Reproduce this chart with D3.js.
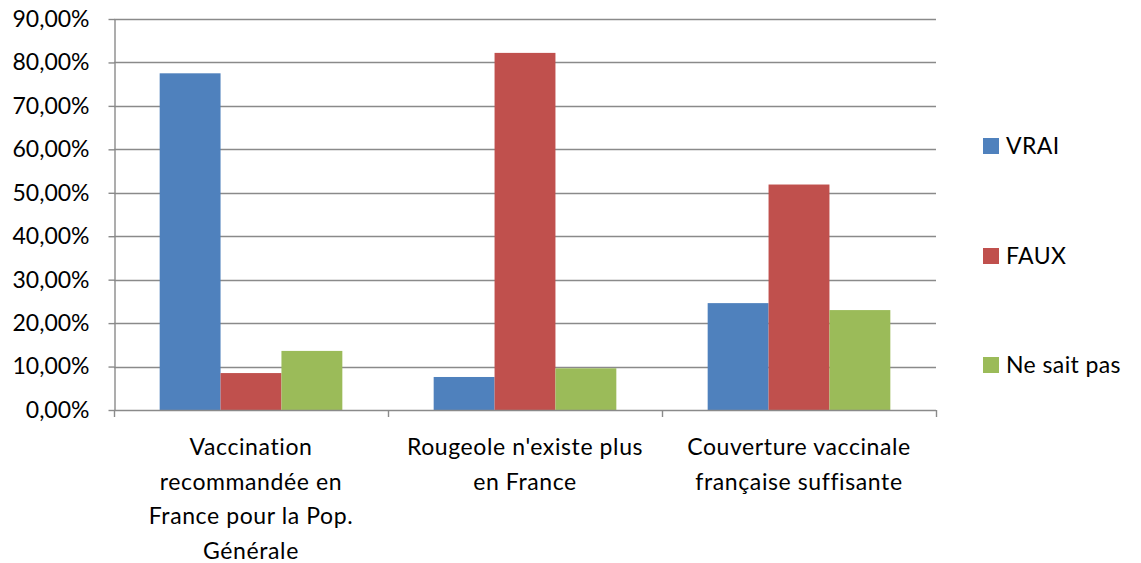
<!DOCTYPE html>
<html>
<head>
<meta charset="utf-8">
<script src="https://cdn.jsdelivr.net/npm/d3@7"></script>
<style>
  body { margin: 0; background: #fff; }
  svg text { font-family: Lato, "Open Sans", sans-serif; fill: #000; }
</style>
</head>
<body>
<div id="chart"></div>
<script>
// data
let categories = [
  ["Vaccination", "recommandée en", "France pour la Pop.", "Générale"],
  ["Rougeole n'existe plus", "en France"],
  ["Couverture vaccinale", "française suffisante"]
];
let seriesNames = ["VRAI", "FAUX", "Ne sait pas"];
let vrai = [77.5, 7.6, 24.6];
let faux = [8.5, 82.2, 51.9];
let neSaitPas = [13.6, 9.6, 23.0];
let yTicks = [0, 10, 20, 30, 40, 50, 60, 70, 80, 90];

let width = 1141, height = 563;
let margin = { top: 19, bottom: 153, left: 114, right: 205 };
let colors = ["#4F81BD", "#C0504D", "#9BBB59"];
let series = [vrai, faux, neSaitPas];

let svg = d3.select("#chart").append("svg")
  .attr("width", width)
  .attr("height", height);

let catIdx = categories.map((d, i) => i);

let x0 = d3.scaleBand()
  .domain(catIdx)
  .range([margin.left, width - margin.right])
  .paddingInner(0)
  .paddingOuter(0);

// excel gap width 150% -> bars take 3/(3+1.5) of the band
let x1 = d3.scaleBand()
  .domain(d3.range(series.length))
  .range([0, x0.bandwidth()])
  .paddingInner(0)
  .paddingOuter(0.75);

let y = d3.scaleLinear()
  .domain([0, 90])
  .range([height - margin.bottom, margin.top]);

let fmt = v => d3.format(".2f")(v).replace(".", ",") + "%";

// gridlines
svg.append("g")
  .selectAll("line")
  .data(yTicks.slice(1))
  .join("line")
  .attr("x1", margin.left)
  .attr("x2", width - margin.right)
  .attr("y1", d => Math.round(y(d)) + 0.5)
  .attr("y2", d => Math.round(y(d)) + 0.5)
  .attr("stroke", "#8a8a8a")
  .attr("stroke-width", 1.4);

// bars
let rows = [];
series.forEach((s, si) => s.forEach((v, ci) => rows.push({ si: si, ci: ci, v: v })));

svg.append("g")
  .selectAll("rect")
  .data(rows)
  .join("rect")
  .attr("x", d => x0(d.ci) + x1(d.si))
  .attr("width", x1.bandwidth())
  .attr("y", d => y(d.v))
  .attr("height", d => y(0) - y(d.v))
  .attr("fill", d => colors[d.si]);

// y axis
let yAxis = d3.axisLeft(y)
  .tickValues(yTicks)
  .tickFormat(fmt)
  .tickSize(6)
  .tickSizeOuter(0);

let gy = svg.append("g")
  .attr("transform", `translate(${margin.left + 0.5},0)`)
  .call(yAxis);
gy.select(".domain").attr("stroke", "#8a8a8a").attr("stroke-width", 1.4);
gy.selectAll(".tick line").attr("stroke", "#8a8a8a").attr("stroke-width", 1.4);
gy.selectAll(".tick text")
  .attr("x", -25)
  .style("font-size", "23px")
  .attr("fill", "#000");

// x axis (category boundaries as ticks)
let bounds = catIdx.map(i => x0(i)).concat([x0(catIdx[catIdx.length - 1]) + x0.bandwidth()]);
let gx = svg.append("g");
gx.append("line")
  .attr("x1", margin.left)
  .attr("x2", width - margin.right)
  .attr("y1", y(0) + 0.5)
  .attr("y2", y(0) + 0.5)
  .attr("stroke", "#8a8a8a")
  .attr("stroke-width", 1.4);
gx.selectAll(".bt")
  .data(bounds)
  .join("line")
  .attr("class", "bt")
  .attr("x1", d => d + 0.5)
  .attr("x2", d => d + 0.5)
  .attr("y1", y(0))
  .attr("y2", y(0) + 7)
  .attr("stroke", "#8a8a8a")
  .attr("stroke-width", 1.4);

// category labels
let lab = svg.append("g")
  .selectAll("text")
  .data(catIdx)
  .join("text")
  .attr("text-anchor", "middle")
  .style("font-size", "23px")
  .style("letter-spacing", "0.6px");
lab.each(function(ci) {
  let t = d3.select(this);
  categories[ci].forEach((line, li) => {
    t.append("tspan")
      .attr("x", x0(ci) + x0.bandwidth() / 2)
      .attr("y", 455 + li * 34.5)
      .text(line);
  });
});

// legend
let legY = [146, 256, 365];
let leg = svg.append("g")
  .selectAll("g")
  .data(seriesNames)
  .join("g")
  .attr("transform", (d, i) => `translate(983,${legY[i]})`);
leg.append("rect")
  .attr("x", 0)
  .attr("y", -8)
  .attr("width", 16)
  .attr("height", 16)
  .attr("fill", (d, i) => colors[i]);
leg.append("text")
  .attr("x", 23)
  .attr("y", 8)
  .style("font-size", "23px")
  .style("letter-spacing", "0.4px")
  .text(d => d);
</script>
</body>
</html>
